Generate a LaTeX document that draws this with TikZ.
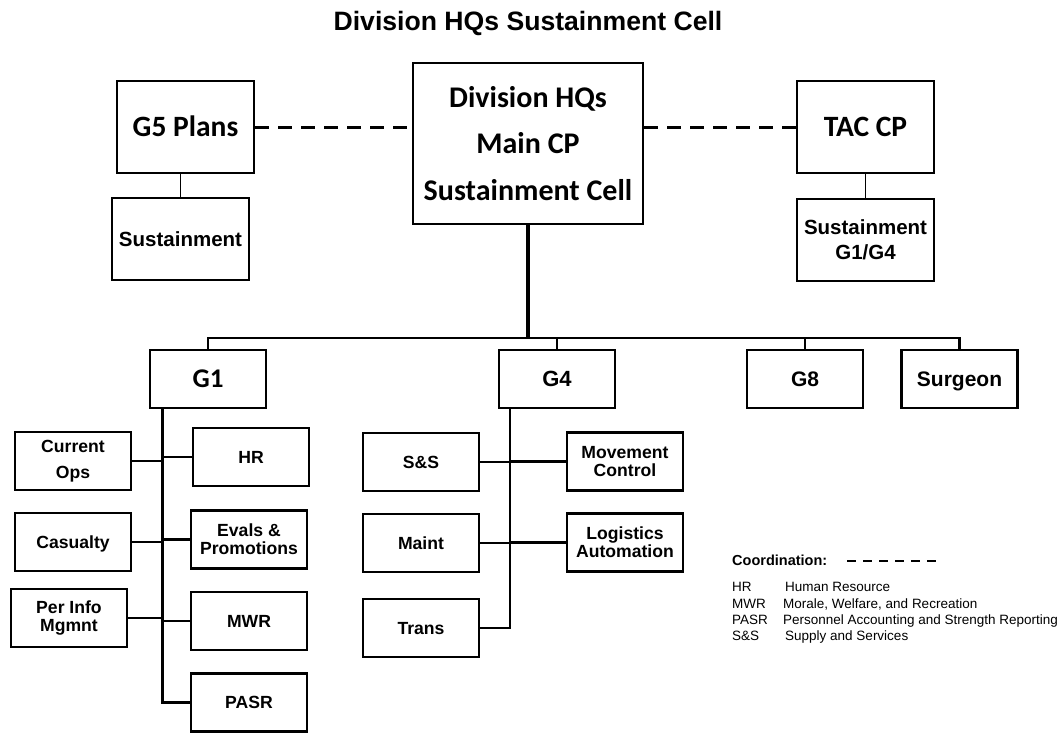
\documentclass[tikz,border=0pt]{standalone}
\usepackage{fontspec}
\setmainfont{Liberation Sans}
\newfontfamily\calfont{Carlito}
\usetikzlibrary{calc}

\begin{document}
\begin{tikzpicture}[x=1pt,y=-1pt,
  box/.style={draw, line width=2.6pt, fill=white, inner sep=0pt,
    minimum width=116pt, minimum height=58pt, align=center},
  topbox/.style={box, minimum width=137pt},
  single/.style={text height=#1, text depth=0pt},
  link/.style={line width=2.8pt},
  slimlink/.style={line width=1.7pt},
  coordline/.style={line width=3pt, dash pattern=on 14pt off 9pt},
  legdash/.style={line width=2pt, dash pattern=on 9pt off 7pt},
  legtext/.style={inner sep=0pt, anchor=base west, font=\fontsize{13.5}{16}\selectfont},
  headfont/.style={font=\calfont\bfseries\fontsize{#1}{46.5}\selectfont},
  boldfont/.style={font=\bfseries\fontsize{#1}{18}\selectfont}
]
\useasboundingbox (0,0) rectangle (1062,732);

% title
\node[font=\bfseries\fontsize{26.6}{30}\selectfont] (title) at (528,23) {Division HQs Sustainment Cell};

% top row
\node[box, minimum width=230pt, minimum height=161pt, headfont=30] (main) at (528,143.5)
  {Division HQs\\Main CP\\Sustainment Cell};
\node[topbox, minimum height=92pt, headfont=29.5, single=19pt] (g5) at (185.5,127) {G5 Plans};
\node[topbox, minimum height=82pt, boldfont=20.5, single=14.7pt] (sl) at (180.5,239) {Sustainment};
\node[topbox, minimum height=92pt, headfont=29.5, single=19pt] (tac) at (865.5,127) {TAC CP};
\node[topbox, minimum height=82pt, font=\bfseries\fontsize{20.5}{25}\selectfont] (sr) at (865.5,240)
  {Sustainment\\G1/G4};

% staff sections
\node[box, headfont=27, single=17.4pt] (g1) at (208,379) {G1};
\node[box, boldfont=22, single=15.8pt] (g4) at (557,379) {G4};
\node[box, boldfont=21, single=15.1pt] (g8) at (805,379) {G8};
\node[box, boldfont=21, single=15.1pt] (surg) at (959.5,379) {Surgeon};

% G1 branches
\node[box, font=\bfseries\fontsize{17.6}{26}\selectfont] (cur) at (73,461) {Current\\Ops};
\node[box, boldfont=17.6, single=12.7pt] (cas) at (73,542) {Casualty};
\node[box, boldfont=17.6] (pim) at (69,618) {Per Info\\Mgmnt};
\node[box, boldfont=17.6, single=12.7pt] (hr) at (251,457) {HR};
\node[box, boldfont=17.6] (evp) at (249,539.5) {Evals \&\\Promotions};
\node[box, boldfont=17.6, single=12.7pt] (mwr) at (249,621) {MWR};
\node[box, boldfont=17.6, single=12.7pt] (pasr) at (249,702.5) {PASR};

% G4 branches
\node[box, boldfont=17.6, single=12.7pt] (ss) at (421,462) {S\&S};
\node[box, boldfont=17.6, single=12.7pt] (mnt) at (421,543) {Maint};
\node[box, boldfont=17.6, single=12.7pt] (trn) at (421,628) {Trans};
\node[box, boldfont=17.6] (mvc) at (625,461.5) {Movement\\Control};
\node[box, boldfont=17.6] (lga) at (625,542.5) {Logistics\\Automation};

% coordination links
\draw[coordline] (g5.east) -- (g5.east -| main.west);
\draw[coordline] (tac.west -| main.east) -- (tac.west);

% support links
\draw[slimlink] (sl.north) -- (sl.north |- g5.south);
\draw[slimlink] (sr.north) -- (sr.north |- tac.south);

% command bus
\coordinate (bus) at (528,338);
\draw[line width=3.4pt] (main.south) -- (main.south |- bus);
\draw[link] (g1.north) -- (g1.north |- bus) -- (surg.north |- bus) -- (surg.north);
\draw[link] (g4.north) -- (g4.north |- bus);
\draw[link] (g8.north) -- (g8.north |- bus);

% G1 trunk
\coordinate (g1t) at ([xshift=-45.5pt]g1.south);
\draw[link] (g1t) |- (pasr.west);
\draw[link] (cur.east) -- (cur.east -| g1t);
\draw[link] (cas.east) -- (cas.east -| g1t);
\draw[link] (pim.east) -- (pim.east -| g1t);
\draw[link] (hr.west) -- (hr.west -| g1t);
\draw[link] (evp.west) -- (evp.west -| g1t);
\draw[link] (mwr.west) -- (mwr.west -| g1t);

% G4 trunk
\coordinate (g4t) at ([xshift=-47pt]g4.south);
\draw[link] (g4t) |- (trn.east);
\draw[link] (ss.east) -- (ss.east -| g4t);
\draw[link] (mnt.east) -- (mnt.east -| g4t);
\draw[link] (mvc.west) -- (mvc.west -| g4t);
\draw[link] (lga.west) -- (lga.west -| g4t);

% legend
\node[inner sep=0pt, anchor=base west, font=\bfseries\fontsize{14.5}{16}\selectfont] (coordlbl) at (732,565) {Coordination:};
\coordinate (ldA) at (847,561);
\coordinate (ldB) at (936,561);
\draw[legdash] (ldA) -- (ldB);

\node[legtext] (abHR) at (732,591) {HR};
\node[legtext] (dfHR) at (785,591) {Human Resource};
\node[legtext] (abMWR) at (732,608) {MWR};
\node[legtext] (dfMWR) at (783,608) {Morale, Welfare, and Recreation};
\node[legtext] (abPASR) at (732,624) {PASR};
\node[legtext] (dfPASR) at (783,624) {Personnel Accounting and Strength Reporting};
\node[legtext] (abSS) at (732,640) {S\&S};
\node[legtext] (dfSS) at (785,640) {Supply and Services};
\end{tikzpicture}
\end{document}
